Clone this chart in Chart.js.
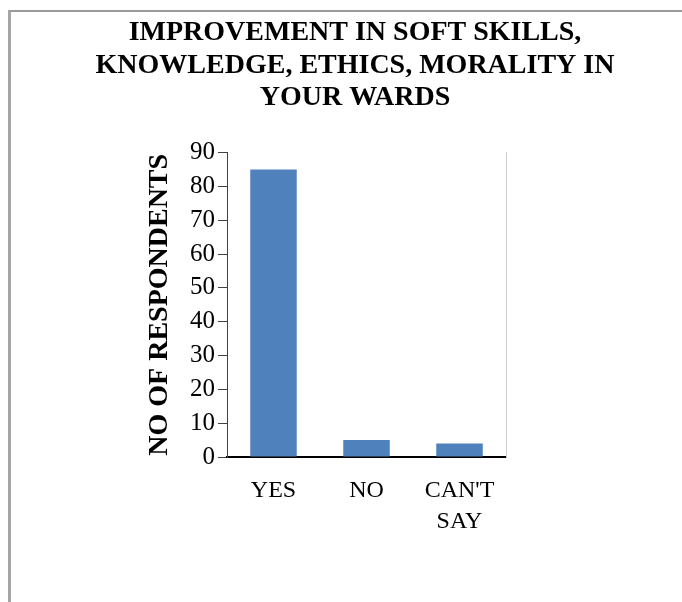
<!DOCTYPE html>
<html>
<head>
<meta charset="utf-8">
<script src="https://cdn.jsdelivr.net/npm/chart.js@4.4.1/dist/chart.umd.min.js"></script>
<style>
    body { margin: 0; background: #fff; }
    #wrap { position: absolute; left: 0; top: 0; width: 682px; height: 602px; }
    #frame { position: absolute; left: 8px; top: 10px; width: 674px; height: 592px;
             border-left: 3px solid #a6a6a6; border-top: 2px solid #9a9a9a; box-sizing: border-box; pointer-events: none; }
</style>
</head>
<body>
<div id="wrap"><canvas id="myChart" width="682" height="602"></canvas></div>
<div id="frame"></div>
<script>
const CATEGORIES = [["YES"], ["NO"], ["CAN'T", "SAY"]];
const RESPONDENTS = [85, 5, 4];
const TITLE_LINES = ["IMPROVEMENT IN SOFT SKILLS,", "KNOWLEDGE, ETHICS, MORALITY IN", "YOUR WARDS"];
const Y_TITLE = "NO OF RESPONDENTS";
const Y_MIN = 0, Y_MAX = 90, Y_STEP = 10;

const SERIF = "'Liberation Serif', 'Times New Roman', serif";

const ctx = document.getElementById('myChart');

const myChart = new Chart(ctx, {
    type: 'bar',
    data: {
        labels: CATEGORIES,
        datasets: [{
            label: Y_TITLE,
            data: RESPONDENTS,
            backgroundColor: '#4f81bd',
            borderWidth: 0,
            barPercentage: 0.5,
            categoryPercentage: 1.0
        }]
    },
    options: {
        responsive: false,
        animation: false,
        layout: { padding: { left: 28, right: 0, top: 0, bottom: 0 } },
        plugins: {
            legend: { display: false },
            tooltip: { enabled: false },
            title: {
                display: true,
                text: TITLE_LINES,
                color: '#000',
                font: { family: SERIF, size: 28, weight: 'bold', lineHeight: 1.15 },
                padding: { top: 17, bottom: 39 }
            }
        },
        scales: {
            x: {
                grid: { display: false, drawTicks: false },
                border: { display: true, color: '#000', width: 2 },
                ticks: {
                    color: '#000',
                    font: { family: SERIF, size: 24, lineHeight: 1.3 },
                    padding: 18,
                    maxRotation: 0
                },
                afterFit: function (scale) { scale.height = 145; }
            },
            y: {
                min: Y_MIN,
                max: Y_MAX,
                grid: { drawOnChartArea: false, drawTicks: true, tickLength: 9, color: '#404040' },
                border: { display: true, color: '#404040', width: 1 },
                ticks: {
                    stepSize: Y_STEP,
                    color: '#000',
                    font: { family: SERIF, size: 25 },
                    padding: 3
                },
                title: {
                    display: true,
                    text: Y_TITLE,
                    color: '#000',
                    font: { family: SERIF, size: 28, weight: 'bold', lineHeight: 1.15 },
                    padding: { top: 116, bottom: 0 }
                },
                afterFit: function (scale) { scale.width = 199; }
            },
            y2: {
                position: 'right',
                display: true,
                grid: { display: false, drawTicks: false },
                border: { display: true, color: '#cfcfcf', width: 1 },
                ticks: { display: false },
                afterFit: function (scale) { scale.width = 176; }
            }
        }
    }
});
</script>
</body>
</html>
